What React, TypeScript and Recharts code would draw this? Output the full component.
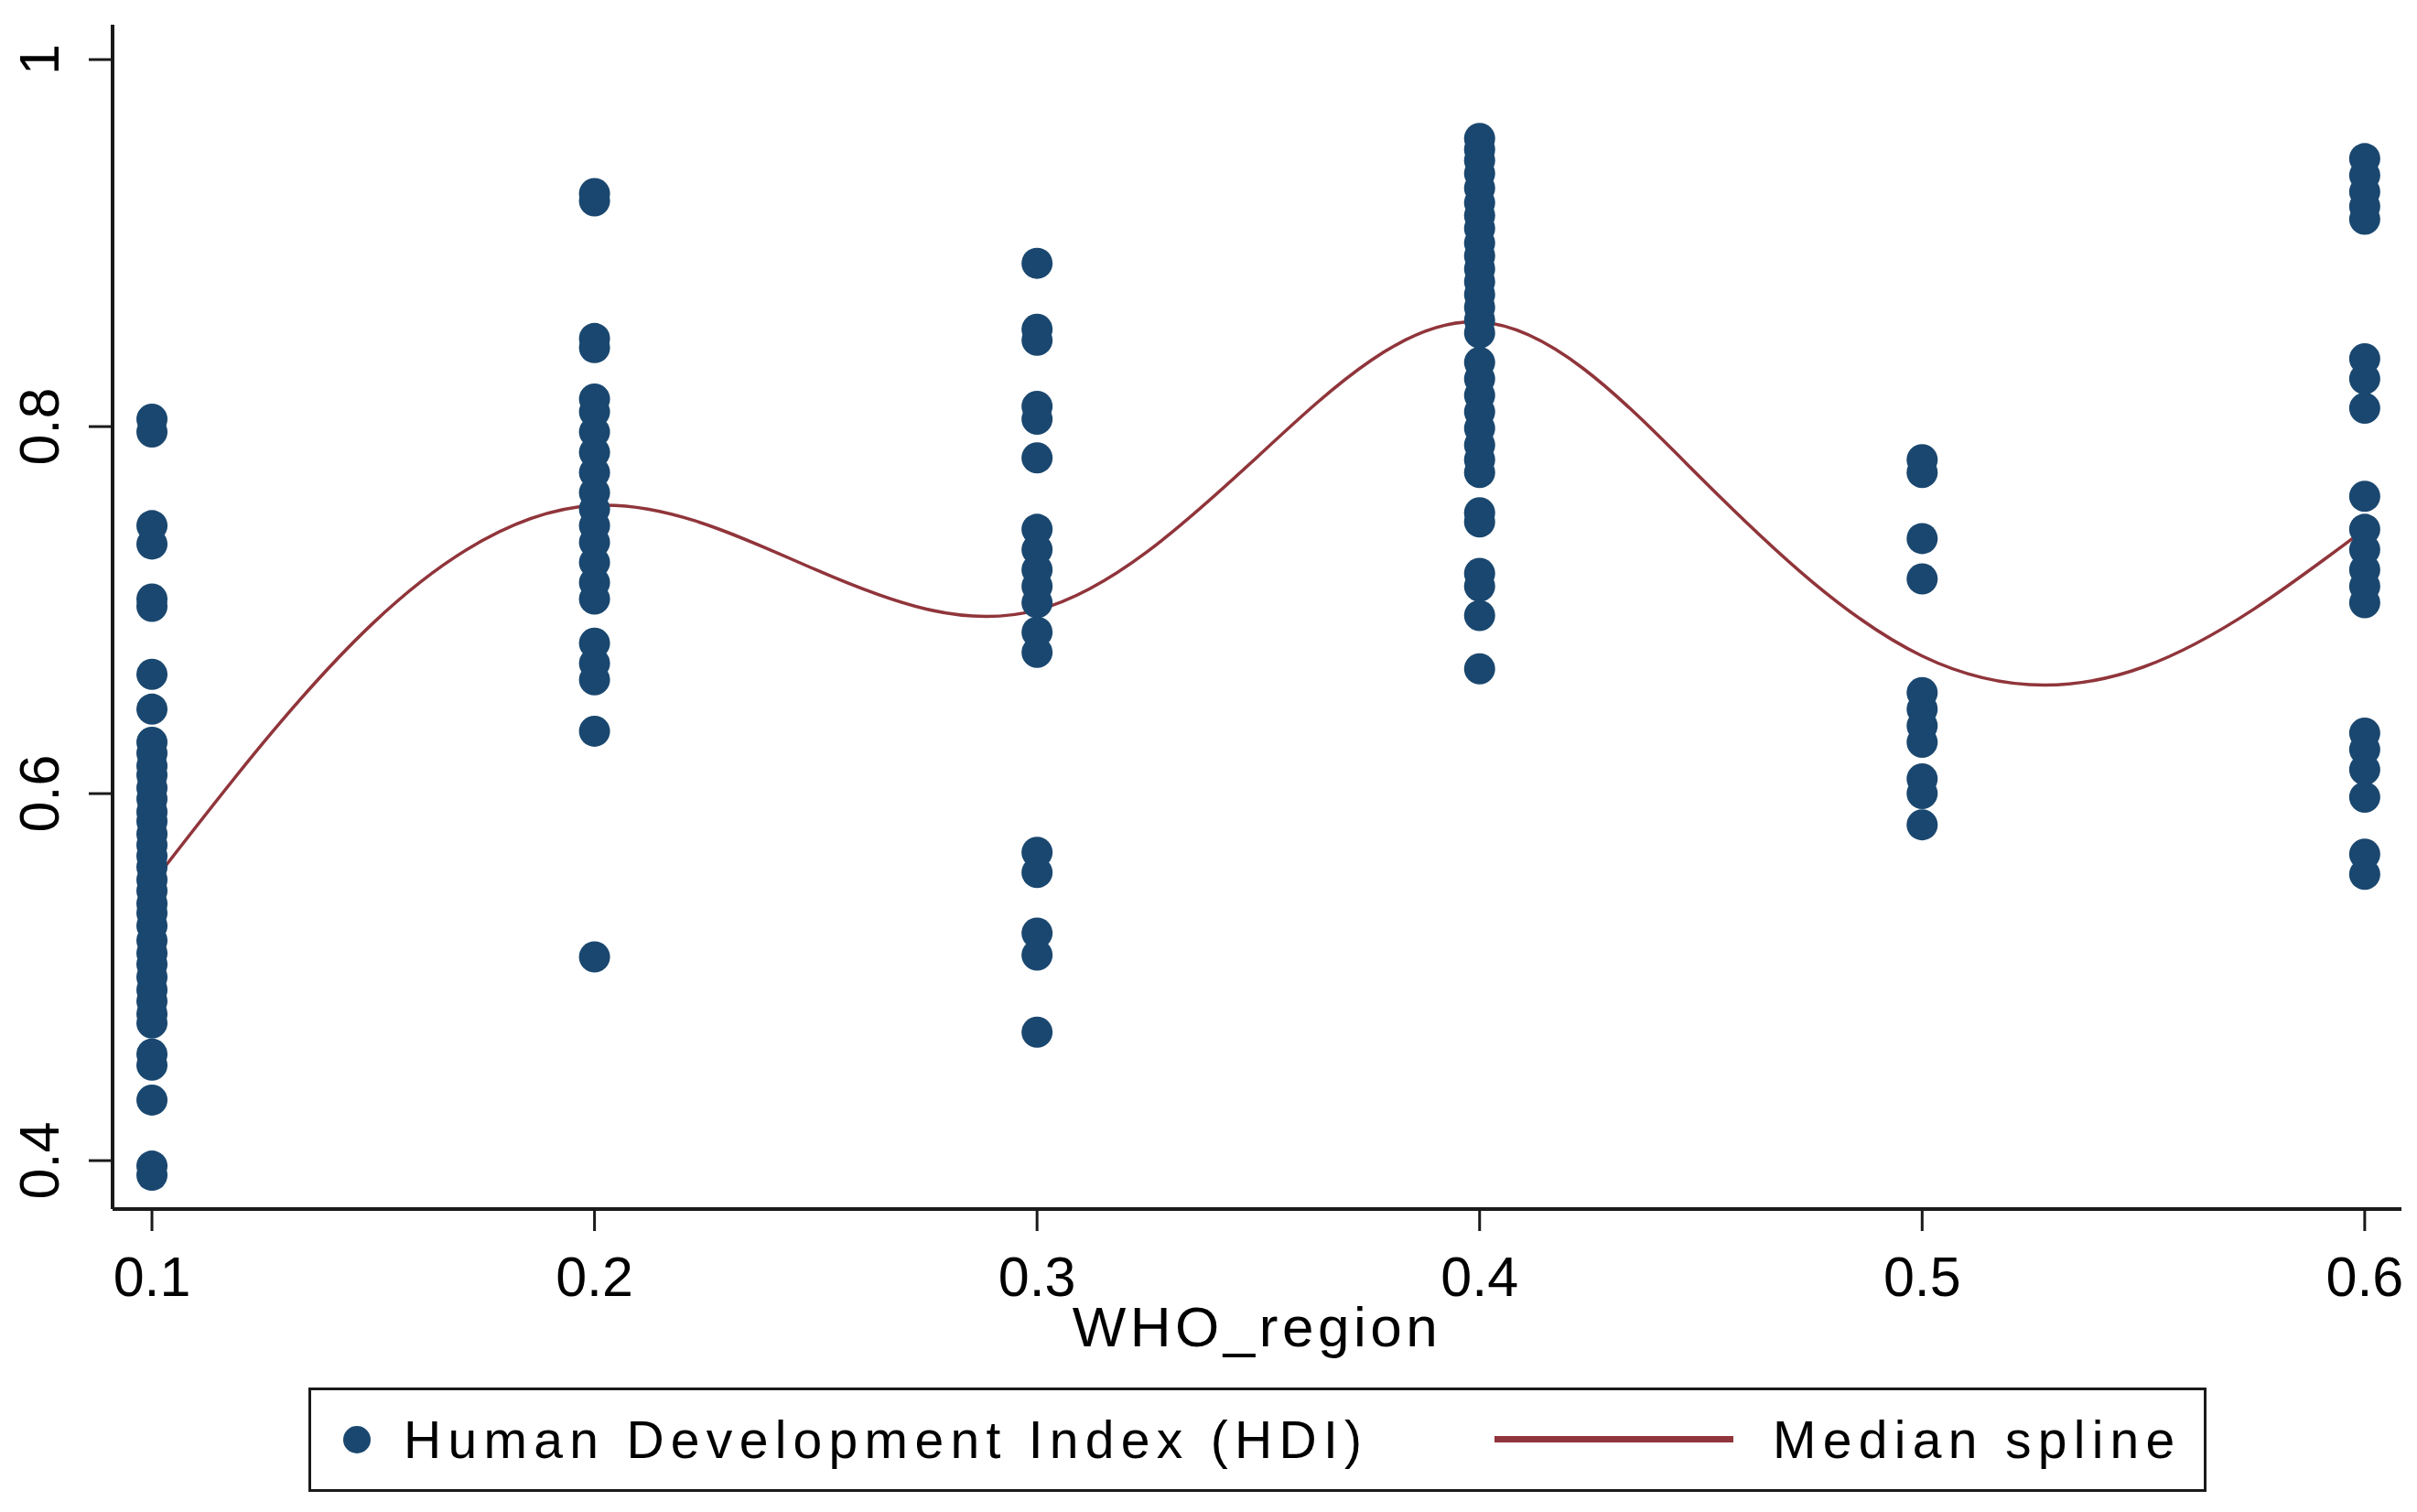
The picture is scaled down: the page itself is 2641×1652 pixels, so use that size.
import React from 'react';
import { ComposedChart, Scatter, Line, XAxis, YAxis, Legend } from 'recharts';

// WHO region codes (x positions)
const regions = [0.1, 0.2, 0.3, 0.4, 0.5, 0.6];

// HDI values per region
const hdiRegion1 = [0.804, 0.797, 0.746, 0.736, 0.706, 0.702, 0.665, 0.646, 0.628, 0.622, 0.615, 0.61, 0.603, 0.597, 0.59, 0.585, 0.578, 0.572, 0.566, 0.56, 0.553, 0.547, 0.54, 0.535, 0.528, 0.52, 0.513, 0.507, 0.5, 0.493, 0.487, 0.48, 0.475, 0.458, 0.452, 0.433, 0.397, 0.392];
const hdiRegion2 = [0.927, 0.923, 0.848, 0.843, 0.815, 0.808, 0.797, 0.786, 0.775, 0.764, 0.755, 0.746, 0.737, 0.726, 0.715, 0.706, 0.682, 0.671, 0.662, 0.634, 0.511];
const hdiRegion3 = [0.889, 0.853, 0.847, 0.811, 0.804, 0.783, 0.744, 0.733, 0.722, 0.713, 0.704, 0.688, 0.677, 0.568, 0.557, 0.524, 0.512, 0.47];
const hdiRegion4 = [0.957, 0.951, 0.945, 0.938, 0.93, 0.922, 0.915, 0.908, 0.9, 0.893, 0.886, 0.879, 0.872, 0.865, 0.858, 0.851, 0.835, 0.826, 0.817, 0.808, 0.799, 0.79, 0.782, 0.775, 0.753, 0.748, 0.72, 0.713, 0.697, 0.668];
const hdiRegion5 = [0.782, 0.775, 0.739, 0.717, 0.655, 0.646, 0.637, 0.628, 0.608, 0.6, 0.583];
const hdiRegion6 = [0.946, 0.937, 0.928, 0.92, 0.913, 0.837, 0.826, 0.81, 0.762, 0.744, 0.733, 0.722, 0.713, 0.704, 0.633, 0.624, 0.613, 0.598, 0.567, 0.556];

// Median spline knots
const splineX = [0.1, 0.15, 0.2, 0.25, 0.3, 0.35, 0.4, 0.45, 0.5, 0.55, 0.6];
const splineY = [0.551, 0.693, 0.757, 0.722, 0.7, 0.784, 0.857, 0.772, 0.675, 0.669, 0.744];

const xTicks = [0.1, 0.2, 0.3, 0.4, 0.5, 0.6];
const yTicks = [0.4, 0.6, 0.8, 1];
const xTickLabels = ['0.1', '0.2', '0.3', '0.4', '0.5', '0.6'];
const yTickLabels = ['0.4', '0.6', '0.8', '1'];

const xTitle = 'WHO_region';
const scatterName = 'Human Development Index (HDI)';
const lineName = 'Median spline';

const NAVY = '#1a476f';
const MAROON = '#90353b';
const AXIS = '#1a1a1a';
const FONT = '"Liberation Sans", Arial, Helvetica, sans-serif';

const allGroups = [hdiRegion1, hdiRegion2, hdiRegion3, hdiRegion4, hdiRegion5, hdiRegion6];
const scatterData = allGroups.flatMap((vals, i) => vals.map((v) => ({ x: regions[i], y: v })));
const splineData = splineX.map((x, i) => ({ x, y: splineY[i] }));

const XTick = (props: any) => {
  const { x, y, payload } = props;
  const idx = xTicks.indexOf(payload.value);
  return (
    <text x={x} y={y + 71} textAnchor="middle" fontSize={61} fontFamily={FONT} fill="#000">
      {idx >= 0 ? xTickLabels[idx] : String(payload.value)}
    </text>
  );
};

const YTick = (props: any) => {
  const { x, y, payload } = props;
  const idx = yTicks.indexOf(payload.value);
  return (
    <text
      transform={`translate(${x - 33},${y}) rotate(-90)`}
      textAnchor="middle"
      fontSize={61}
      fontFamily={FONT}
      fill="#000"
    >
      {idx >= 0 ? yTickLabels[idx] : String(payload.value)}
    </text>
  );
};

const Dot = (props: any) => {
  const { cx, cy } = props;
  if (cx == null || cy == null) return null;
  return <circle cx={cx} cy={cy} r={17} fill={NAVY} />;
};

const LegendBox = () => (
  <div
    style={{
      position: 'relative',
      width: 2074,
      height: 114,
      boxSizing: 'border-box',
      border: `3px solid ${AXIS}`,
      background: '#fff',
      fontFamily: FONT,
      fontSize: 57,
      color: '#000',
    }}
  >
    <div
      style={{
        position: 'absolute',
        left: 35,
        top: 39,
        width: 30,
        height: 30,
        borderRadius: '50%',
        background: NAVY,
      }}
    />
    <span style={{ position: 'absolute', left: 101, top: 0, lineHeight: '108px', letterSpacing: 7.3, whiteSpace: 'nowrap' }}>
      {scatterName}
    </span>
    <div style={{ position: 'absolute', left: 1293, top: 50, width: 261, height: 7, background: MAROON }} />
    <span style={{ position: 'absolute', left: 1597, top: 0, lineHeight: '108px', letterSpacing: 7.3, whiteSpace: 'nowrap' }}>
      {lineName}
    </span>
  </div>
);

export default function App() {
  return (
    <div style={{ position: 'absolute', left: 0, top: 0, width: 2641, height: 1652, background: '#fff' }}>
      <ComposedChart width={2641} height={1652} margin={{ top: 27, right: 17, left: 0, bottom: 0 }}>
        <XAxis
          dataKey="x"
          type="number"
          domain={[0.0911, 0.6083]}
          ticks={xTicks}
          allowDataOverflow
          tick={<XTick />}
          tickSize={24}
          tickMargin={0}
          height={331}
          axisLine={{ stroke: AXIS, strokeWidth: 4 }}
          tickLine={{ stroke: AXIS, strokeWidth: 3 }}
          label={{ value: xTitle, position: 'insideTop', offset: 106, fontSize: 62, fontFamily: FONT, fill: '#000', letterSpacing: 4.5 } as any}
        />
        <YAxis
          dataKey="y"
          type="number"
          domain={[0.3736, 1.019]}
          ticks={yTicks}
          allowDataOverflow
          tick={<YTick />}
          tickSize={26}
          tickMargin={0}
          width={123}
          axisLine={{ stroke: AXIS, strokeWidth: 4 }}
          tickLine={{ stroke: AXIS, strokeWidth: 3 }}
        />
        <Scatter
          name={scatterName}
          data={scatterData}
          dataKey="y"
          fill={NAVY}
          shape={<Dot />}
          isAnimationActive={false}
        />
        <Line
          name={lineName}
          data={splineData}
          dataKey="y"
          type="natural"
          stroke={MAROON}
          strokeWidth={3.5}
          dot={false}
          activeDot={false}
          isAnimationActive={false}
        />
        <Legend
          layout="horizontal"
          verticalAlign="middle"
          align="center"
          wrapperStyle={{ left: 337, top: 1516, width: 2074, height: 114 }}
          content={() => <LegendBox />}
        />
      </ComposedChart>
    </div>
  );
}
